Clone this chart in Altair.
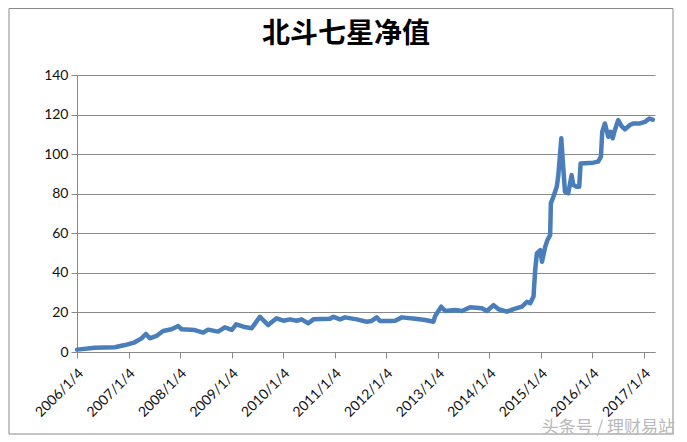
import altair as alt
import pandas as pd

title_text = "北斗七星净值"
watermark = "头条号 / 理财易站"

dates = [
    "2006-01-04", "2006-05-10", "2006-09-29", "2006-12-10", "2007-02-18", "2007-04-06",
    "2007-05-07", "2007-06-04", "2007-07-21", "2007-09-06", "2007-11-05", "2007-12-22",
    "2008-01-15", "2008-04-18", "2008-06-16", "2008-07-21", "2008-09-30", "2008-11-16",
    "2009-01-05", "2009-02-05", "2009-03-28", "2009-05-26", "2009-07-23", "2009-09-20",
    "2009-11-18", "2010-01-06", "2010-02-22", "2010-04-10", "2010-05-15", "2010-07-01",
    "2010-08-06", "2010-12-02", "2010-12-26", "2011-02-11", "2011-03-18", "2011-06-09",
    "2011-08-19", "2011-09-23", "2011-10-29", "2011-11-21", "2012-01-31", "2012-03-07",
    "2012-04-24", "2012-07-27", "2012-10-06", "2012-12-04", "2012-12-16", "2013-01-28",
    "2013-02-25", "2013-05-07", "2013-06-24", "2013-08-21", "2013-11-12", "2013-12-18",
    "2014-02-03", "2014-03-10", "2014-05-09", "2014-06-25", "2014-08-23", "2014-09-28",
    "2014-10-21", "2014-11-13", "2014-11-25", "2014-12-07", "2014-12-31", "2015-01-12",
    "2015-02-04", "2015-02-20", "2015-03-11", "2015-03-16", "2015-04-03", "2015-04-27",
    "2015-05-08", "2015-05-20", "2015-05-29", "2015-06-08", "2015-06-24", "2015-07-17",
    "2015-08-10", "2015-08-22", "2015-09-15", "2015-10-03", "2015-10-13", "2016-01-10",
    "2016-02-14", "2016-03-05", "2016-03-14", "2016-04-02", "2016-04-26", "2016-05-13",
    "2016-05-27", "2016-06-12", "2016-07-05", "2016-07-29", "2016-08-22", "2016-09-26",
    "2016-10-19", "2016-12-06", "2017-01-11", "2017-02-11", "2017-03-07",
]
values = [
    1.2, 2.2, 2.4, 3.5, 4.9, 6.9,
    9.1, 6.9, 8.1, 10.6, 11.5, 13.1,
    11.5, 11.1, 9.8, 11.3, 10.3, 12.5,
    11.2, 14.0, 12.8, 12.0, 17.8, 13.6,
    17.0, 15.8, 16.5, 15.8, 16.5, 14.5,
    16.5, 16.8, 17.8, 16.5, 17.5, 16.5,
    15.3, 15.7, 17.5, 15.7, 15.7, 15.8,
    17.5, 16.8, 16.2, 15.3, 18.2, 22.9,
    20.7, 21.2, 20.7, 22.6, 22.1, 20.7,
    23.7, 21.6, 20.4, 21.7, 22.9, 25.4,
    24.6, 28.0, 41.4, 49.9, 51.5, 45.6,
    53.2, 56.6, 59.1, 75.1, 78.5, 83.5,
    89.4, 100.0, 108.0, 97.0, 81.0, 80.2,
    89.4, 84.4, 83.5, 83.5, 95.3, 95.7,
    96.2, 98.7, 111.3, 115.5, 108.8, 111.3,
    108.0, 112.2, 117.2, 114.2, 112.5, 114.7,
    115.5, 115.5, 116.3, 118.0, 117.4,
]
tick_years = list(range(2006, 2018))
y_ticks = [0, 20, 40, 60, 80, 100, 120, 140]

df = pd.DataFrame({"date": dates, "value": values})

grey = "#898989"
font = "Lato"

line = alt.Chart(df).mark_line(color="#4a7ebb", strokeWidth=4.5, strokeJoin="round", strokeCap="round").encode(
    x=alt.X(
        "date:T",
        scale=alt.Scale(
            type="utc",
            domain=[alt.DateTime(year=2006, month=1, date=4, utc=True),
                    alt.DateTime(year=2017, month=3, date=23, utc=True)],
        ),
        axis=alt.Axis(
            title=None,
            values=[alt.DateTime(year=yy, month=1, date=4, utc=True) for yy in tick_years],
            labelExpr="utcFormat(datum.value, '%Y/%-m/%-d')",
            labelAngle=-45,
            labelAlign="right",
            labelBaseline="middle",
            labelPadding=13,
            labelOffset=4,
            grid=False,
            tickSize=6,
            tickColor=grey,
            domainColor=grey,
            labelFont=font,
            labelFontSize=14,
            labelColor="#111",
            labelOverlap=False,
        ),
    ),
    y=alt.Y(
        "value:Q",
        scale=alt.Scale(domain=[0, 140], nice=False, zero=True),
        axis=alt.Axis(
            title=None,
            values=y_ticks,
            grid=True,
            gridColor=grey,
            gridWidth=1,
            tickSize=6,
            tickColor=grey,
            domainColor=grey,
            labelFont=font,
            labelFontSize=14,
            labelColor="#111",
            labelPadding=3,
        ),
    ),
)

one = pd.DataFrame({"a": [0]})

border = alt.Chart(one).mark_rect(fillOpacity=0, stroke=grey, strokeWidth=1).encode(
    x=alt.value(-68), x2=alt.value(596), y=alt.value(-66.5), y2=alt.value(359)
)

title_mark = alt.Chart(pd.DataFrame({"t": [title_text]})).mark_text(
    font="Noto Sans CJK SC", fontSize=28, fontWeight="bold", color="#000", baseline="middle", align="center"
).encode(x=alt.value(269), y=alt.value(-40), text="t:N")

wm = alt.Chart(pd.DataFrame({"t": [watermark]})).mark_text(
    font="Noto Sans CJK SC", fontSize=17, color="#b8b8b8", baseline="middle", align="right"
).encode(x=alt.value(598), y=alt.value(353), text="t:N")

chart = alt.layer(border, line, title_mark, wm).properties(
    width=578,
    height=277,
    autosize=alt.AutoSizeParams(type="none"),
    padding={"left": 69, "top": 67, "right": 24, "bottom": 88},
).configure_view(stroke=None)

chart.save("out.html", embed_options={"renderer": "svg", "actions": False})
